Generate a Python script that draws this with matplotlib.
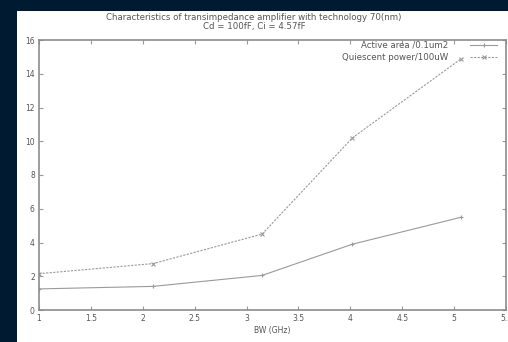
import matplotlib.pyplot as plt
from matplotlib.patches import Rectangle

# bandwidth points (GHz)
bw = [1.0, 2.1, 3.15, 4.02, 5.07]
active_area = [1.25, 1.4, 2.05, 3.9, 5.5]
quiescent_power = [2.15, 2.75, 4.5, 10.2, 14.9]

x_ticks = [1, 1.5, 2, 2.5, 3, 3.5, 4, 4.5, 5, 5.5]
x_tick_labels = ['1', '1.5', '2', '2.5', '3', '3.5', '4', '4.5', '5', '5.5']
y_ticks = [0, 2, 4, 6, 8, 10, 12, 14, 16]

W, H = 508, 342
fig = plt.figure(figsize=(W / 100, H / 100), dpi=100, facecolor='#001a31')
# white paper area, kept behind the axes
fig.patches.append(Rectangle((17 / W, 0), 1 - 17 / W, 1 - 11 / H,
                             transform=fig.transFigure, facecolor='white',
                             edgecolor='none', zorder=-10))

ax = fig.add_axes([39 / W, 1 - 310 / H, (506 - 39) / W, (310 - 40) / H])
ax.set_zorder(1)
ax.set_facecolor('white')

line_col = '#9a9a9a'
text_col = '#555555'
ax.plot(bw, active_area, color=line_col, lw=0.8, marker='+', ms=3, mew=0.8,
        label='Active area /0.1um2')
ax.plot(bw, quiescent_power, color=line_col, lw=0.8, ls=(0, (2, 1.2)),
        marker='x', ms=2.5, mew=0.8, label='Quiescent power/100uW')

ax.set_xlim(1, 5.5)
ax.set_ylim(0, 16)
ax.set_xticks(x_ticks)
ax.set_xticklabels(x_tick_labels)
ax.set_yticks(y_ticks)

for s in ax.spines.values():
    s.set_color('#8c8c8c')
    s.set_linewidth(1.2)
ax.tick_params(direction='in', length=3, width=0.8, color='#9a9a9a',
               labelsize=5.5, labelcolor=text_col, top=True, right=True, pad=3)

ax.set_xlabel('BW (GHz)', fontsize=5.5, color=text_col, labelpad=2)

fig.text(0.5, 1 - 21.5 / H,
         'Characteristics of transimpedance amplifier with technology 70(nm)\n'
         'Cd = 100fF, Ci = 4.57fF',
         ha='center', va='center', fontsize=6.2, color=text_col,
         linespacing=1.0)

leg = ax.legend(loc='upper right', bbox_to_anchor=(1 - 9 / 467, 1 - 1 / 270),
                frameon=False, fontsize=6.2, markerfirst=False,
                handlelength=3.1, labelspacing=0.35, borderaxespad=0,
                borderpad=0, handletextpad=2.6)
for t in leg.get_texts():
    t.set_color(text_col)

fig.savefig('out.png', dpi=100, facecolor=fig.get_facecolor())
